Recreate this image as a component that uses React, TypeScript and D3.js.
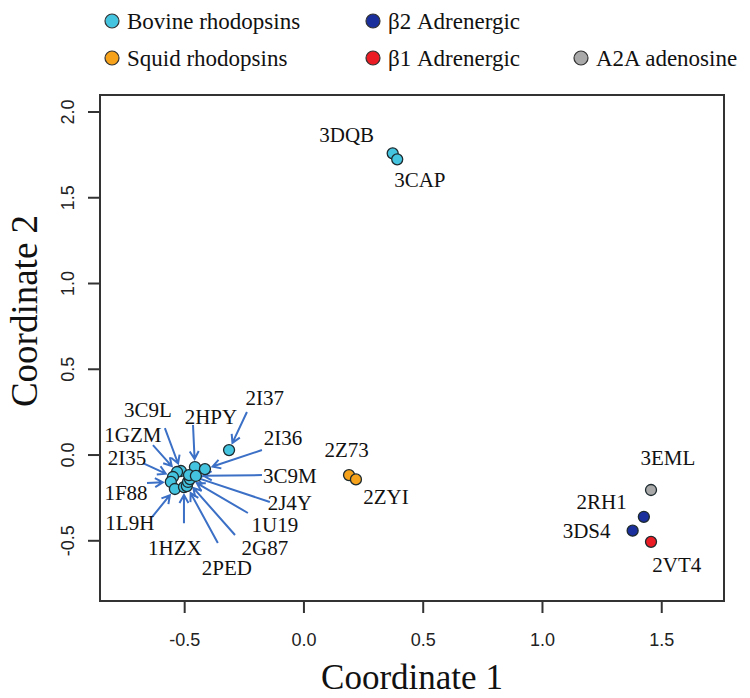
import React from "react";
import * as d3 from "d3";

// ---- data ----
const pointIds = ["3DQB","3CAP","2I37","2HPY","3C9L","1GZM","2I35","1F88","1L9H","1HZX","2PED","2G87","1U19","2J4Y","3C9M","2I36","2Z73","2ZYI","3EML","2RH1","3DS4","2VT4"];
const pointGroup = ["bov","bov","bov","bov","bov","bov","bov","bov","bov","bov","bov","bov","bov","bov","bov","bov","squid","squid","a2a","b2","b2","b1"];
const coord1 = [0.372,0.391,-0.314,-0.457,-0.516,-0.532,-0.549,-0.558,-0.541,-0.503,-0.491,-0.486,-0.478,-0.482,-0.453,-0.415,0.189,0.218,1.455,1.425,1.378,1.455];
const coord2 = [1.759,1.724,0.029,-0.070,-0.093,-0.099,-0.128,-0.157,-0.198,-0.187,-0.181,-0.157,-0.140,-0.117,-0.122,-0.082,-0.117,-0.142,-0.204,-0.360,-0.441,-0.506];
// label anchor in data units
const labelCoord1 = [0.179,0.486,-0.164,-0.390,-0.654,-0.717,-0.742,-0.746,-0.730,-0.541,-0.323,-0.164,-0.122,-0.059,-0.059,-0.088,0.179,0.344,1.526,1.248,1.185,1.563];
const labelCoord2 = [1.866,1.603,0.332,0.222,0.262,0.117,-0.017,-0.222,-0.397,-0.542,-0.659,-0.542,-0.408,-0.280,-0.122,0.099,0.029,-0.245,-0.017,-0.272,-0.441,-0.641];
// arrow start in data units (null = no arrow)
const arrowFrom1 = [null,null,-0.239,-0.465,-0.583,-0.633,-0.675,-0.658,-0.637,-0.503,-0.361,-0.289,-0.235,-0.143,-0.176,-0.176,null,null,null,null,null,null];
const arrowFrom2 = [null,null,0.251,0.175,0.157,0.058,-0.047,-0.163,-0.362,-0.397,-0.513,-0.466,-0.338,-0.274,-0.117,0.029,null,null,null,null,null,null];

const xTicks = [-0.5, 0.0, 0.5, 1.0, 1.5];
const yTicks = [-0.5, 0.0, 0.5, 1.0, 1.5, 2.0];
const xDomain = [-0.855, 1.761];
const yDomain = [-0.851, 2.099];

const legendGroups = ["bov","squid","b2","b1","a2a"];
const legendNames = ["Bovine rhodopsins","Squid rhodopsins","\u03B22 Adrenergic","\u03B21 Adrenergic","A2A adenosine"];

// ---- styles ----
const fills: Record<string,string> = { bov: "#45c4e0", squid: "#f7a21b", b2: "#1a2e9c", b1: "#ec1c24", a2a: "#a9a9a9" };
const legendPos: Record<string,[number,number]> = { bov: [112,21], squid: [112,58], b2: [373,21], b1: [373,58], a2a: [581,58] };
const arrowColor = "#3b70c6";
const serif = "'Liberation Serif', 'Times New Roman', serif";
const sans = "'Liberation Sans', Arial, sans-serif";

export default function App() {
  const W = 750, H = 698;
  const L = 100, R = 724, T = 95, B = 601;
  const x = d3.scaleLinear().domain(xDomain).range([L, R]);
  const y = d3.scaleLinear().domain(yDomain).range([B, T]);
  const r = 5.5;

  const arrows = pointIds.map((id, i) => {
    if (arrowFrom1[i] === null) return null;
    const x0 = x(arrowFrom1[i] as number), y0 = y(arrowFrom2[i] as number);
    const px = x(coord1[i]), py = y(coord2[i]);
    const dx = px - x0, dy = py - y0;
    const len = Math.hypot(dx, dy);
    const ux = dx / len, uy = dy / len;
    const pull = 8;
    const x1 = px - ux * pull, y1 = py - uy * pull;
    const hl = 9, ang = Math.PI / 6;
    const a = Math.atan2(uy, ux);
    const h1x = x1 - hl * Math.cos(a - ang), h1y = y1 - hl * Math.sin(a - ang);
    const h2x = x1 - hl * Math.cos(a + ang), h2y = y1 - hl * Math.sin(a + ang);
    const p = d3.path();
    p.moveTo(x0, y0); p.lineTo(x1, y1);
    p.moveTo(h1x, h1y); p.lineTo(x1, y1); p.lineTo(h2x, h2y);
    return <path key={id} d={p.toString()} fill="none" stroke={arrowColor} strokeWidth={2} strokeLinejoin="miter" />;
  });

  return (
    <svg width={W} height={H} style={{ position: "absolute", left: 0, top: 0, background: "#fff" }}>
      <rect x={0} y={0} width={W} height={H} fill="#fff" />
      {/* legend */}
      {legendGroups.map((g, i) => {
        const [cx, cy] = legendPos[g];
        return (
          <g key={g}>
            <circle cx={cx} cy={cy} r={7} fill={fills[g]} stroke="#333" strokeWidth={1.2} />
            <text x={cx + 15} y={cy} dy="0.33em" fontFamily={serif} fontSize={23} fill="#111">{legendNames[i]}</text>
          </g>
        );
      })}
      {/* box */}
      <rect x={L} y={T} width={R - L} height={B - T} fill="none" stroke="#333" strokeWidth={2} />
      {/* x axis */}
      {xTicks.map(t => (
        <g key={"x" + t}>
          <line x1={x(t)} x2={x(t)} y1={B} y2={B + 12} stroke="#333" strokeWidth={2} />
          <text x={x(t)} y={640} dy="0.35em" textAnchor="middle" fontFamily={sans} fontSize={18} fill="#222">{t.toFixed(1)}</text>
        </g>
      ))}
      {yTicks.map(t => (
        <g key={"y" + t}>
          <line x1={L - 12} x2={L} y1={y(t)} y2={y(t)} stroke="#333" strokeWidth={2} />
          <text transform={`translate(68,${y(t)}) rotate(-90)`} dy="0.35em" textAnchor="middle" fontFamily={sans} fontSize={18} fill="#222">{t.toFixed(1)}</text>
        </g>
      ))}
      <text x={(L + R) / 2} y={677} dy="0.35em" textAnchor="middle" fontFamily={serif} fontSize={35} fill="#111">Coordinate 1</text>
      <text transform={`translate(24,311) rotate(-90)`} dy="0.35em" textAnchor="middle" fontFamily={serif} fontSize={37} fill="#111">Coordinate 2</text>
      {/* arrows */}
      {arrows}
      {/* points */}
      {pointIds.map((id, i) => (
        <circle key={id} cx={x(coord1[i])} cy={y(coord2[i])} r={r} fill={fills[pointGroup[i]]} stroke="#1d2a2e" strokeWidth={1.3} />
      ))}
      {/* labels */}
      {pointIds.map((id, i) => (
        <text key={"l" + id} x={x(labelCoord1[i])} y={y(labelCoord2[i])} dy="0.35em" textAnchor="middle" fontFamily={serif} fontSize={21} fill="#111">{id}</text>
      ))}
    </svg>
  );
}
